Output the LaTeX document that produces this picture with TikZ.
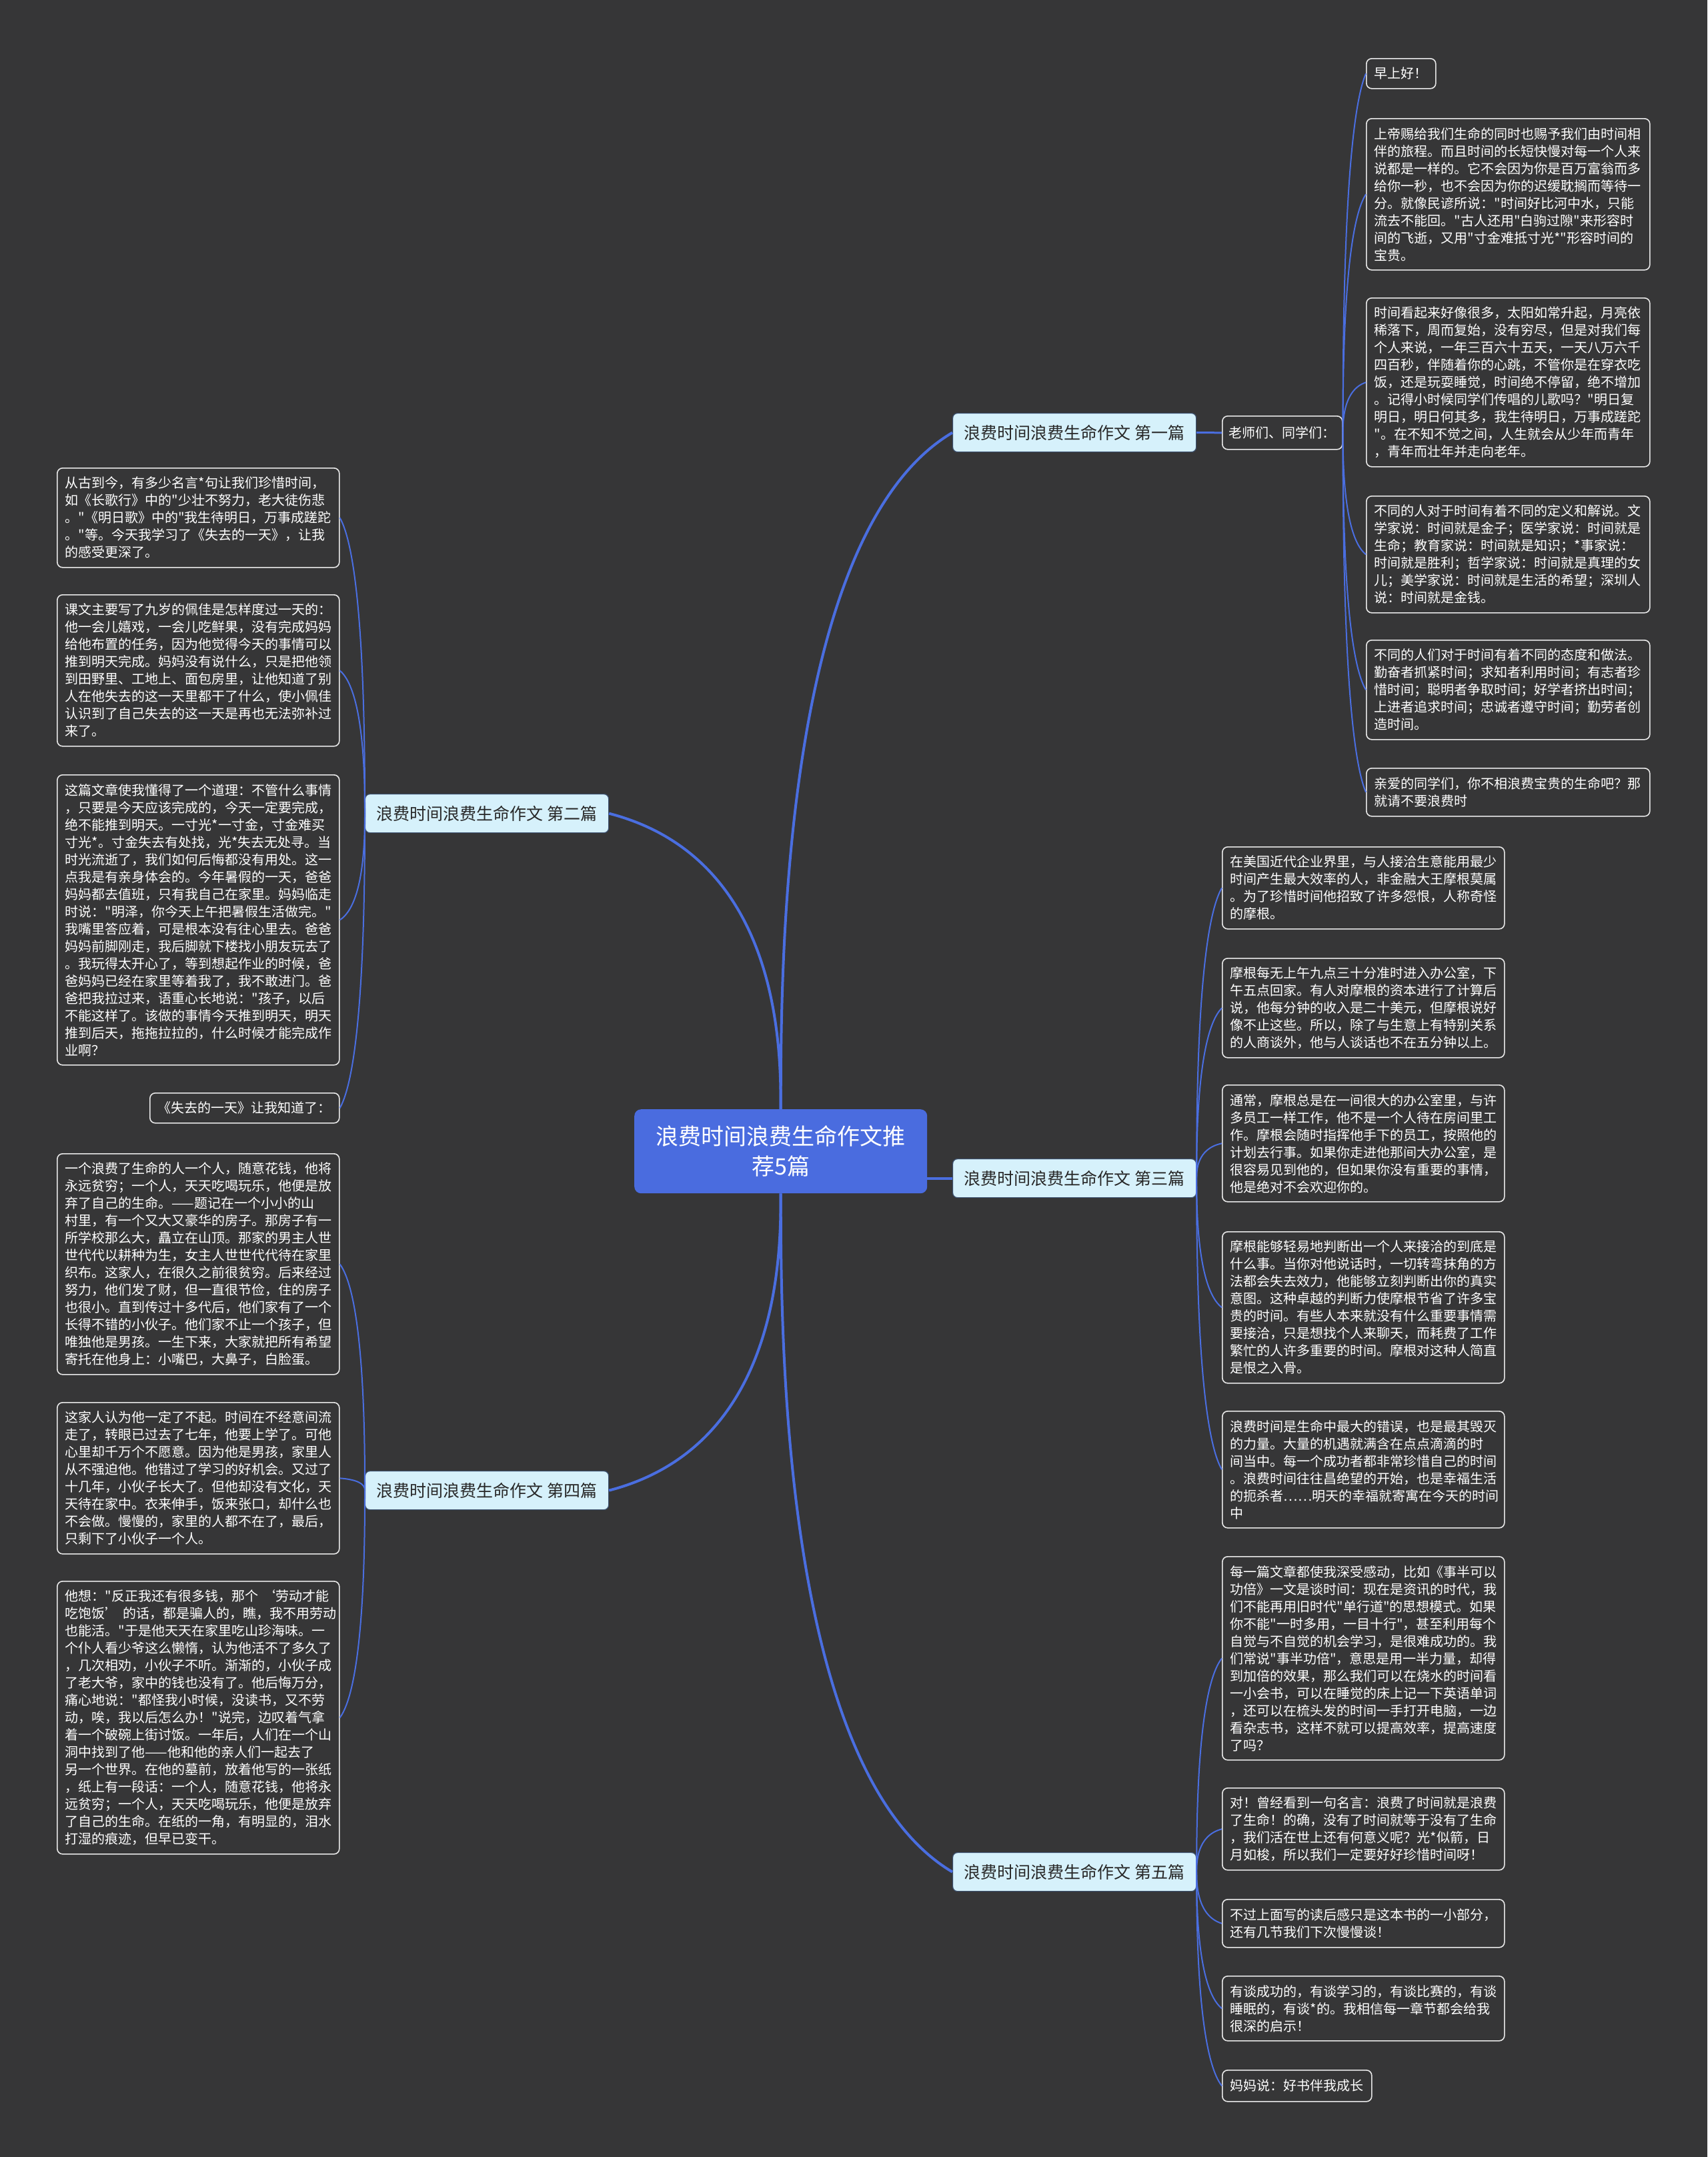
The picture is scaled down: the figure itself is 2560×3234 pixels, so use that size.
\documentclass[tikz,border=0pt]{standalone}
\usepackage{fontspec}
\setmainfont{Noto Sans CJK SC}[Ligatures=TeXOff]
\usetikzlibrary{calc}
\definecolor{bg}{RGB}{54,54,55}
\definecolor{linkblue}{RGB}{74,110,224}
\definecolor{centerblue}{RGB}{74,108,223}
\definecolor{branchfill}{RGB}{214,241,251}
\definecolor{branchline}{RGB}{60,80,110}
\definecolor{branchtext}{RGB}{40,40,40}
\definecolor{leafline}{RGB}{232,232,232}
\newcommand{\leafFont}{\fontsize{20}{26}\selectfont}
\newcommand{\branchFont}{\fontsize{25}{30}\selectfont}
\newcommand{\centerFont}{\fontsize{34}{45}\selectfont}
\newcommand{\curvelink}[3]{\draw[#1] (#2) .. controls ($(#2)!0.2!(#2 |- #3)$) and ($(#2)!0.85!(#2 |- #3)$) .. (#3);}
\tikzset{
  leaf/.style={draw=leafline, fill=bg, text=white, rounded corners=8pt, line width=1.6pt,
    font=\leafFont, align=left, anchor=north west, inner xsep=12pt, inner ysep=0pt},
  rleaf/.style={leaf, minimum width=425pt, text width=401pt},
  mleaf/.style={leaf, minimum width=423pt, text width=399pt},
  branch/.style={draw=branchline, fill=branchfill, text=branchtext, rounded corners=7pt,
    line width=1.2pt, font=\branchFont, anchor=north west, minimum width=365pt, minimum height=58pt,
    inner sep=0pt},
  rootnode/.style={fill=centerblue, text=white, rounded corners=10pt, font=\centerFont,
    align=center, anchor=north west, minimum width=439pt, minimum height=126pt, inner sep=0pt},
  thicklink/.style={draw=linkblue, line width=4pt},
  midlink/.style={draw=linkblue, line width=3pt},
  thinlink/.style={draw=linkblue, line width=2pt}
}
\begin{document}
\begin{tikzpicture}[x=1pt,y=-1pt]
\fill[bg] (0,0) rectangle (2560,3234);
\useasboundingbox (0,0) rectangle (2560,3234);

% root and branches
\node[rootnode] (root) at (951,1663) {浪费时间浪费生命作文推\\荐5篇};
\node[branch] (b1) at (1428,619) {浪费时间浪费生命作文 第一篇};
\node[branch] (b2) at (547,1190) {浪费时间浪费生命作文 第二篇};
\node[branch] (b3) at (1428,1737) {浪费时间浪费生命作文 第三篇};
\node[branch] (b4) at (547,2205) {浪费时间浪费生命作文 第四篇};
\node[branch] (b5) at (1428,2777) {浪费时间浪费生命作文 第五篇};

% branch 1
\node[leaf, minimum width=180pt, text width=160pt, inner xsep=10pt, minimum height=50pt] (t0) at (1832,623) {老师们、同学们：};
\node[leaf, minimum width=104pt, text width=80pt, minimum height=45pt] (r1) at (2048,87) {早上好！};
\node[rleaf, minimum height=227pt] (r2) at (2048,177) {上帝赐给我们生命的同时也赐予我们由时间相\\伴的旅程。而且时间的长短快慢对每一个人来\\说都是一样的。它不会因为你是百万富翁而多\\给你一秒，也不会因为你的迟缓耽搁而等待一\\分。就像民谚所说："时间好比河中水，只能\\流去不能回。"古人还用"白驹过隙"来形容时\\间的飞逝，又用"寸金难抵寸光*"形容时间的\\宝贵。};
\node[rleaf, minimum height=253pt] (r3) at (2048,446) {时间看起来好像很多，太阳如常升起，月亮依\\稀落下，周而复始，没有穷尽，但是对我们每\\个人来说，一年三百六十五天，一天八万六千\\四百秒，伴随着你的心跳，不管你是在穿衣吃\\饭，还是玩耍睡觉，时间绝不停留，绝不增加\\。记得小时候同学们传唱的儿歌吗？"明日复\\明日，明日何其多，我生待明日，万事成蹉跎\\"。在不知不觉之间，人生就会从少年而青年\\，青年而壮年并走向老年。};
\node[rleaf, minimum height=175pt] (r4) at (2048,743) {不同的人对于时间有着不同的定义和解说。文\\学家说：时间就是金子；医学家说：时间就是\\生命；教育家说：时间就是知识；*事家说：\\时间就是胜利；哲学家说：时间就是真理的女\\儿；美学家说：时间就是生活的希望；深圳人\\说：时间就是金钱。};
\node[rleaf, minimum height=149pt] (r5) at (2048,959) {不同的人们对于时间有着不同的态度和做法。\\勤奋者抓紧时间；求知者利用时间；有志者珍\\惜时间；聪明者争取时间；好学者挤出时间；\\上进者追求时间；忠诚者遵守时间；勤劳者创\\造时间。};
\node[rleaf, minimum height=72pt] (r6) at (2048,1151) {亲爱的同学们，你不相浪费宝贵的生命吧？那\\就请不要浪费时};

% branch 3
\node[mleaf, minimum height=123pt] (m1) at (1832,1269) {在美国近代企业界里，与人接洽生意能用最少\\时间产生最大效率的人，非金融大王摩根莫属\\。为了珍惜时间他招致了许多怨恨，人称奇怪\\的摩根。};
\node[mleaf, minimum height=149pt] (m2) at (1832,1436) {摩根每无上午九点三十分准时进入办公室，下\\午五点回家。有人对摩根的资本进行了计算后\\说，他每分钟的收入是二十美元，但摩根说好\\像不止这些。所以，除了与生意上有特别关系\\的人商谈外，他与人谈话也不在五分钟以上。};
\node[mleaf, minimum height=175pt] (m3) at (1832,1626) {通常，摩根总是在一间很大的办公室里，与许\\多员工一样工作，他不是一个人待在房间里工\\作。摩根会随时指挥他手下的员工，按照他的\\计划去行事。如果你走进他那间大办公室，是\\很容易见到他的，但如果你没有重要的事情，\\他是绝对不会欢迎你的。};
\node[mleaf, minimum height=227pt] (m4) at (1832,1846) {摩根能够轻易地判断出一个人来接洽的到底是\\什么事。当你对他说话时，一切转弯抹角的方\\法都会失去效力，他能够立刻判断出你的真实\\意图。这种卓越的判断力使摩根节省了许多宝\\贵的时间。有些人本来就没有什么重要事情需\\要接洽，只是想找个人来聊天，而耗费了工作\\繁忙的人许多重要的时间。摩根对这种人简直\\是恨之入骨。};
\node[mleaf, minimum height=175pt] (m5) at (1832,2115) {浪费时间是生命中最大的错误，也是最其毁灭\\*的力量。大量的机遇就满含在点点滴滴的时\\间当中。每一个成功者都非常珍惜自己的时间\\。浪费时间往往昌绝望的开始，也是幸福生活\\的扼杀者……明天的幸福就寄寓在今天的时间\\中};

% branch 5
\node[mleaf, minimum height=305pt] (f1) at (1832,2333) {每一篇文章都使我深受感动，比如《事半可以\\功倍》一文是谈时间：现在是资讯的时代，我\\们不能再用旧时代"单行道"的思想模式。如果\\你不能"一时多用，一目十行"，甚至利用每个\\自觉与不自觉的机会学习，是很难成功的。我\\们常说"事半功倍"，意思是用一半力量，却得\\到加倍的效果，那么我们可以在烧水的时间看\\一小会书，可以在睡觉的床上记一下英语单词\\，还可以在梳头发的时间一手打开电脑，一边\\看杂志书，这样不就可以提高效率，提高速度\\了吗？};
\node[mleaf, minimum height=123pt] (f2) at (1832,2680) {对！曾经看到一句名言：浪费了时间就是浪费\\了生命！的确，没有了时间就等于没有了生命\\，我们活在世上还有何意义呢？光*似箭，日\\月如梭，所以我们一定要好好珍惜时间呀！};
\node[mleaf, minimum height=72pt] (f3) at (1832,2847) {不过上面写的读后感只是这本书的一小部分，\\还有几节我们下次慢慢谈！};
\node[mleaf, minimum height=97pt] (f4) at (1832,2962) {有谈成功的，有谈学习的，有谈比赛的，有谈\\睡眠的，有谈*的。我相信每一章节都会给我\\很深的启示！};
\node[leaf, minimum width=223pt, text width=200pt, minimum height=47pt] (f5) at (1832,3103) {妈妈说：好书伴我成长};

% branch 2
\node[mleaf, minimum height=149pt] (l1) at (85,701) {从古到今，有多少名言*句让我们珍惜时间，\\如《长歌行》中的"少壮不努力，老大徒伤悲\\。"《明日歌》中的"我生待明日，万事成蹉跎\\。"等。今天我学习了《失去的一天》，让我\\的感受更深了。};
\node[mleaf, minimum height=227pt] (l2) at (85,891) {课文主要写了九岁的佩佳是怎样度过一天的：\\他一会儿嬉戏，一会儿吃鲜果，没有完成妈妈\\给他布置的任务，因为他觉得今天的事情可以\\推到明天完成。妈妈没有说什么，只是把他领\\到田野里、工地上、面包房里，让他知道了别\\人在他失去的这一天里都干了什么，使小佩佳\\认识到了自己失去的这一天是再也无法弥补过\\来了。};
\node[mleaf, minimum height=435pt] (l3) at (85,1161) {这篇文章使我懂得了一个道理：不管什么事情\\，只要是今天应该完成的，今天一定要完成，\\绝不能推到明天。一寸光*一寸金，寸金难买\\寸光*。寸金失去有处找，光*失去无处寻。当\\时光流逝了，我们如何后悔都没有用处。这一\\点我是有亲身体会的。今年暑假的一天，爸爸\\妈妈都去值班，只有我自己在家里。妈妈临走\\时说："明泽，你今天上午把暑假生活做完。"\\我嘴里答应着，可是根本没有往心里去。爸爸\\妈妈前脚刚走，我后脚就下楼找小朋友玩去了\\。我玩得太开心了，等到想起作业的时候，爸\\爸妈妈已经在家里等着我了，我不敢进门。爸\\爸把我拉过来，语重心长地说："孩子，以后\\不能这样了。该做的事情今天推到明天，明天\\推到后天，拖拖拉拉的，什么时候才能完成作\\业啊？};
\node[leaf, minimum width=284pt, text width=260pt, minimum height=45pt] (l4) at (224,1638) {《失去的一天》让我知道了：};

% branch 4
\node[mleaf, minimum height=331pt] (l5) at (85,1729) {一个浪费了生命的人一个人，随意花钱，他将\\永远贫穷；一个人，天天吃喝玩乐，他便是放\\弃了自己的生命。——题记在一个小小的山\\村里，有一个又大又豪华的房子。那房子有一\\所学校那么大，矗立在山顶。那家的男主人世\\世代代以耕种为生，女主人世世代代待在家里\\织布。这家人，在很久之前很贫穷。后来经过\\努力，他们发了财，但一直很节俭，住的房子\\也很小。直到传过十多代后，他们家有了一个\\长得不错的小伙子。他们家不止一个孩子，但\\唯独他是男孩。一生下来，大家就把所有希望\\寄托在他身上：小嘴巴，大鼻子，白脸蛋。};
\node[mleaf, minimum height=227pt] (l6) at (85,2102) {这家人认为他一定了不起。时间在不经意间流\\走了，转眼已过去了七年，他要上学了。可他\\心里却千万个不愿意。因为他是男孩，家里人\\从不强迫他。他错过了学习的好机会。又过了\\十几年，小伙子长大了。但他却没有文化，天\\天待在家中。衣来伸手，饭来张口，却什么也\\不会做。慢慢的，家里的人都不在了，最后，\\只剩下了小伙子一个人。};
\node[mleaf, minimum height=409pt] (l7) at (85,2370) {他想："反正我还有很多钱，那个 ‘劳动才能\\吃饱饭’ 的话，都是骗人的，瞧，我不用劳动\\也能活。"于是他天天在家里吃山珍海味。一\\个仆人看少爷这么懒惰，认为他活不了多久了\\，几次相劝，小伙子不听。渐渐的，小伙子成\\了老大爷，家中的钱也没有了。他后悔万分，\\痛心地说："都怪我小时候，没读书，又不劳\\动，唉，我以后怎么办！"说完，边叹着气拿\\着一个破碗上街讨饭。一年后，人们在一个山\\洞中找到了他——他和他的亲人们一起去了\\另一个世界。在他的墓前，放着他写的一张纸\\，纸上有一段话：一个人，随意花钱，他将永\\远贫穷；一个人，天天吃喝玩乐，他便是放弃\\了自己的生命。在纸的一角，有明显的，泪水\\打湿的痕迹，但早已变干。};

% main connectors
\curvelink{thicklink}{root.north}{b1.west}
\curvelink{thicklink}{root.north}{b2.east}
\curvelink{thicklink}{root.south}{b4.east}
\curvelink{thicklink}{root.south}{b5.west}
\draw[thicklink] (root.east |- b3.west) -- (b3.west);
\draw[midlink] (b1.east) -- (t0.west);

% leaf connectors
\foreach \n in {r1,r2,r3,r4,r5,r6}{\curvelink{thinlink}{t0.east}{\n.west}}
\foreach \n in {m1,m2,m3,m4,m5}{\curvelink{thinlink}{b3.east}{\n.west}}
\foreach \n in {f1,f2,f3,f4,f5}{\curvelink{thinlink}{b5.east}{\n.west}}
\foreach \n in {l1,l2,l3,l4}{\curvelink{thinlink}{b2.west}{\n.east}}
\foreach \n in {l5,l6,l7}{\curvelink{thinlink}{b4.west}{\n.east}}
\end{tikzpicture}
\end{document}
